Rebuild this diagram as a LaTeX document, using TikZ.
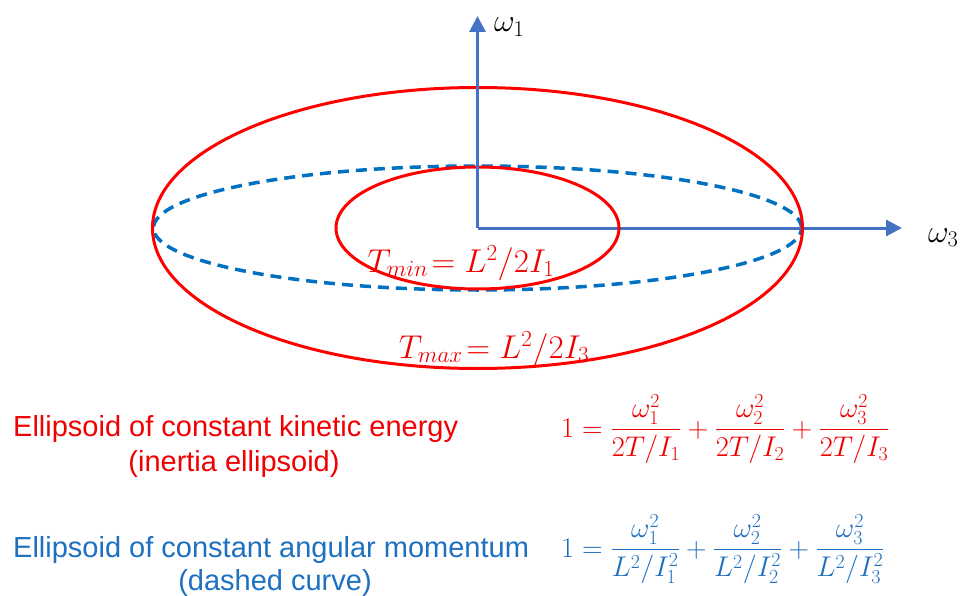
\documentclass[tikz,border=0pt]{standalone}
\usepackage{fix-cm}
\usepackage{amsmath}
\usepackage[no-math]{fontspec}
\newfontfamily\arialf{Liberation Sans}
\usetikzlibrary{arrows.meta}
\definecolor{ellred}{RGB}{255,0,0}
\definecolor{txtred}{RGB}{240,0,0}
\definecolor{axisblue}{RGB}{68,114,196}
\definecolor{dashblue}{RGB}{0,112,192}
\definecolor{txtblue}{RGB}{30,112,192}
\tikzset{
  axisline/.style={draw=axisblue, line width=3pt, -{Triangle[length=16pt,width=16pt]}},
  redell/.style={draw=ellred, line width=3pt},
  blueell/.style={draw=dashblue, line width=3.5pt, dash pattern=on 11pt off 7pt},
  axlabel/.style={font=\fontsize{32}{36}\selectfont, inner sep=0pt},
  tlabel/.style={font=\fontsize{33}{38}\selectfont, text=txtred, inner sep=0pt},
  captext/.style={font=\arialf\fontsize{29}{34}\selectfont, inner sep=0pt},
  eqtext/.style={font=\fontsize{28.5}{34}\selectfont, inner sep=0pt}
}
\begin{document}
\begin{tikzpicture}[x=1pt,y=-1pt]
\useasboundingbox[fill=white] (0,0) rectangle (963,596);
% key points
\coordinate (O) at (477.5,228);
\coordinate (w1tip) at (477.5,16);
\coordinate (w3tip) at (902,228);
% ellipses
\draw[blueell] (O) ellipse [x radius=324pt, y radius=62pt];
\draw[axisline] (O) -- (w3tip);
\draw[redell] (O) ellipse [x radius=325pt, y radius=140.5pt];
\draw[redell] (O) ellipse [x radius=141.5pt, y radius=61pt];
\draw[axisline] (O) -- (w1tip);
% axis labels
\node[axlabel, anchor=base west] (w1lab) at (494,32) {$\omega_1$};
\node[axlabel, anchor=base west] (w3lab) at (928,242) {$\omega_3$};
% energy labels
\node[tlabel, anchor=base] (tmin) at (461,272) {$T_{min}\!=L^2/2I_1$};
\node[tlabel, anchor=base] (tmax) at (494,358) {$T_{max}\!=L^2/2I_3$};
% captions
\node[captext, text=txtred, anchor=base west] (cap1) at (13,436) {Ellipsoid of constant kinetic energy};
\node[captext, text=txtred, anchor=base] (cap2) at (234,471) {(inertia ellipsoid)};
\node[captext, text=txtblue, anchor=base west] (cap3) at (13,557) {Ellipsoid of constant angular momentum};
\node[captext, text=txtblue, anchor=base] (cap4) at (275,590) {(dashed curve)};
% equations
\node[eqtext, text=txtred, anchor=base west] (eq1) at (561,437)
  {$1=\dfrac{\omega_1^2}{2T/I_1}+\dfrac{\omega_2^2}{2T/I_2}+\dfrac{\omega_3^2}{2T/I_3}$};
\node[eqtext, text=txtblue, anchor=base west] (eq2) at (561,557)
  {$1=\dfrac{\omega_1^2}{L^2/I_1^2}+\dfrac{\omega_2^2}{L^2/I_2^2}+\dfrac{\omega_3^2}{L^2/I_3^2}$};
\end{tikzpicture}
\end{document}
